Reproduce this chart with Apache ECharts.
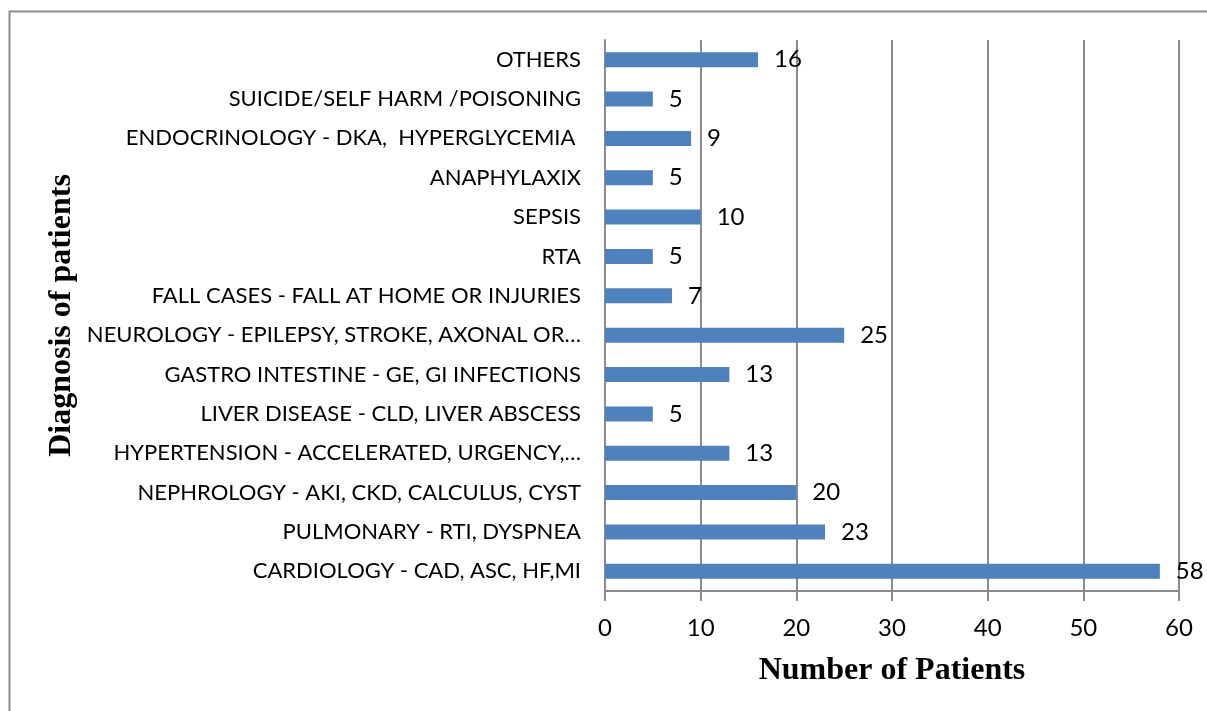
<!DOCTYPE html>
<html>
<head>
<meta charset="utf-8">
<script src="https://cdn.jsdelivr.net/npm/echarts@6/dist/echarts.min.js"></script>
<style>
  html, body { margin: 0; padding: 0; background: #fff; }
  #chart { width: 1207px; height: 711px; }
</style>
</head>
<body>
<div id="chart"></div>
<script>
// categories, bottom to top (as the value axis draws them)
const diagnoses = [
  "CARDIOLOGY - CAD, ASC, HF,MI",
  "PULMONARY - RTI, DYSPNEA",
  "NEPHROLOGY - AKI, CKD, CALCULUS, CYST",
  "HYPERTENSION - ACCELERATED, URGENCY,…",
  "LIVER DISEASE - CLD, LIVER ABSCESS",
  "GASTRO INTESTINE - GE, GI INFECTIONS",
  "NEUROLOGY - EPILEPSY, STROKE, AXONAL OR…",
  "FALL CASES - FALL AT HOME OR INJURIES",
  "RTA",
  "SEPSIS",
  "ANAPHYLAXIX",
  "ENDOCRINOLOGY - DKA,  HYPERGLYCEMIA ",
  "SUICIDE/SELF HARM /POISONING",
  "OTHERS",
];
const patients = [58, 23, 20, 13, 5, 13, 25, 7, 5, 10, 5, 9, 5, 16];
const xTicks = [0, 10, 20, 30, 40, 50, 60];

const gray = "#8c8c8c";
const chart = echarts.init(document.getElementById("chart"));

chart.setOption({
  animation: false,
  graphic: [
    {
      type: "rect",
      shape: { x: 9.5, y: 11.5, width: 1400, height: 900 },
      style: { fill: "none", stroke: gray, lineWidth: 2 },
      silent: true,
    },
  ],
  grid: { left: 605, right: 28, top: 40, bottom: 120 },
  xAxis: {
    type: "value",
    min: xTicks[0],
    max: xTicks[xTicks.length - 1],
    interval: 10,
    name: "Number of Patients",
    nameLocation: "middle",
    nameGap: 64,
    nameTextStyle: {
      fontFamily: "Liberation Serif",
      fontWeight: "bold",
      fontSize: 32,
      color: "#000",
    },
    axisLine: { show: true, lineStyle: { color: gray, width: 2 } },
    axisTick: { show: true, length: 10, lineStyle: { color: gray, width: 2 } },
    axisLabel: {
      margin: 25,
      fontFamily: "Lato",
      fontSize: 24,
      color: "#000",
    },
    splitLine: { show: true, lineStyle: { color: gray, width: 2 } },
  },
  yAxis: {
    type: "category",
    data: diagnoses,
    name: "Diagnosis of patients",
    nameLocation: "middle",
    nameGap: 527,
    nameMoveOverlap: false,
    nameRotate: 90,
    nameTextStyle: {
      fontFamily: "Liberation Serif",
      fontWeight: "bold",
      fontSize: 32,
      color: "#000",
    },
    axisLine: { show: true, lineStyle: { color: gray, width: 2 } },
    axisTick: { show: false },
    axisLabel: {
      margin: 24,
      fontFamily: "Lato",
      fontSize: 22,
      color: "#000",
    },
  },
  series: [
    {
      type: "bar",
      data: patients,
      barWidth: 15,
      itemStyle: { color: "#4f81bd" },
      label: {
        show: true,
        position: "right",
        distance: 16,
        fontFamily: "Lato",
        fontSize: 24,
        color: "#000",
      },
    },
  ],
});
</script>
</body>
</html>
